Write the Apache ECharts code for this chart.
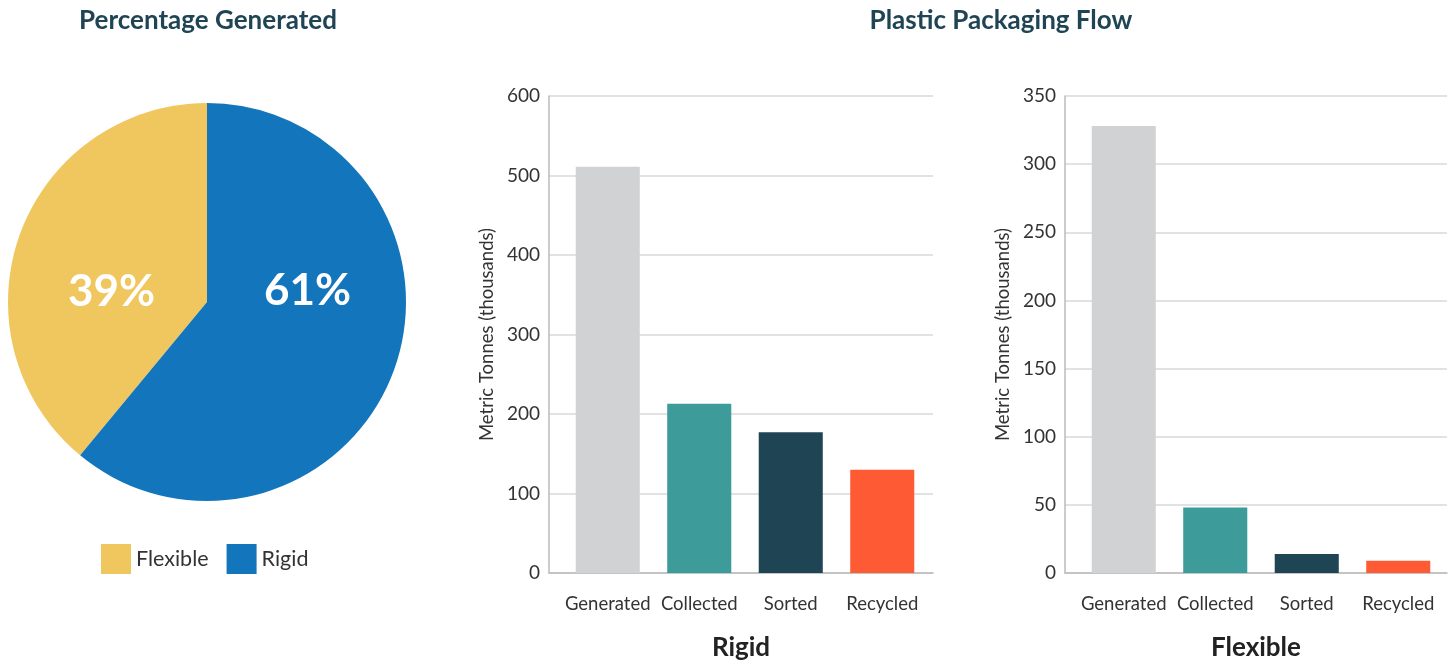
<!DOCTYPE html>
<html><head><meta charset="utf-8">
<script src="https://cdn.jsdelivr.net/npm/echarts@6/dist/echarts.min.js"></script>
<style>html,body{margin:0;padding:0;background:#fff}#c{width:1455px;height:663px}</style>
</head><body><div id="c"></div>
<script>
const pieNames = ['Flexible', 'Rigid'];
const pieValues = [39, 61];
const stages = ['Generated', 'Collected', 'Sorted', 'Recycled'];
const rigidValues = [511, 213, 177, 130];
const flexibleValues = [328, 48, 14, 9];
const rigidTicks = {min: 0, max: 600, interval: 100};
const flexTicks = {min: 0, max: 350, interval: 50};

const FONT = 'Lato';
const barColors = ['#d1d2d4', '#3d9b9a', '#1f4454', '#fe5b35'];
const pieColors = ['#f0c75e', '#1375bc'];
const labelOffsets = [[1, 25], [4, -46]];

function frameY(t, idx) {
  return {
    type: 'value', gridIndex: idx, min: t.min, max: t.max, interval: t.interval,
    name: 'Metric Tonnes (thousands)', nameLocation: 'middle', nameGap: 52,
    nameTextStyle: {fontFamily: FONT, fontSize: 18.5, color: '#333'},
    axisLine: {show: true, lineStyle: {color: '#bbb', width: 1.5}},
    axisTick: {show: false},
    axisLabel: {fontFamily: FONT, fontSize: 19, color: '#333', margin: 9},
    splitLine: {lineStyle: {color: '#d9d9d9', width: 1.5}}
  };
}
function frameX(name, idx) {
  return {
    type: 'category', gridIndex: idx, data: stages,
    name: name, nameLocation: 'middle', nameGap: 62,
    nameTextStyle: {fontFamily: FONT, fontSize: 26, fontWeight: 'bold', color: '#222'},
    axisLine: {lineStyle: {color: '#bbb', width: 1.5}},
    axisTick: {show: false}, axisLabel: {show: false}
  };
}
function barY(t, idx) {
  return {type: 'value', gridIndex: idx, min: t.min, max: t.max, interval: t.interval, show: false};
}
function barX(idx) {
  return {
    type: 'category', gridIndex: idx, data: stages,
    axisLine: {show: false}, axisTick: {show: false},
    axisLabel: {fontFamily: FONT, fontSize: 18.5, color: '#333', margin: 22, interval: 0}
  };
}
function barData(vals) {
  return vals.map((v, i) => ({value: v, itemStyle: {color: barColors[i]}}));
}
function grid(l, r) {
  return {left: l, right: r, top: 96, bottom: 90, outerBoundsMode: 'none', containLabel: false};
}

const chart = echarts.init(document.getElementById('c'));
chart.setOption({
  animation: false,
  title: [
    {text: 'Percentage Generated', left: 203, top: 3, textAlign: 'center',
     textStyle: {fontFamily: FONT, fontSize: 26, fontWeight: 'bold', color: '#1f4454'}},
    {text: 'Plastic Packaging Flow', left: 996, top: 3, textAlign: 'center',
     textStyle: {fontFamily: FONT, fontSize: 26, fontWeight: 'bold', color: '#1f4454'}}
  ],
  legend: {
    data: pieNames, left: 96, top: 539, itemWidth: 30, itemHeight: 30, itemGap: 18,
    icon: 'rect', textStyle: {fontFamily: FONT, fontSize: 21.5, color: '#333'}
  },
  grid: [grid(549, 522), grid(562, 527), grid(1065, 8), grid(1078, 11)],
  xAxis: [frameX('Rigid', 0), barX(1), frameX('Flexible', 2), barX(3)],
  yAxis: [frameY(rigidTicks, 0), barY(rigidTicks, 1), frameY(flexTicks, 2), barY(flexTicks, 3)],
  series: [
    {
      type: 'pie', center: [207, 302], radius: 199, startAngle: 90, clockwise: false,
      data: pieNames.map((n, i) => ({
        name: n, value: pieValues[i], itemStyle: {color: pieColors[i]},
        label: {offset: labelOffsets[i]}
      })),
      label: {show: true, position: 'inside', formatter: '{c}%', fontFamily: FONT,
        fontSize: 44, fontWeight: 'bold', color: '#fff'},
      labelLine: {show: false}, emphasis: {disabled: true}
    },
    {type: 'bar', xAxisIndex: 1, yAxisIndex: 1, data: barData(rigidValues), barCategoryGap: '30%'},
    {type: 'bar', xAxisIndex: 3, yAxisIndex: 3, data: barData(flexibleValues), barCategoryGap: '30%'}
  ]
});
</script></body></html>
